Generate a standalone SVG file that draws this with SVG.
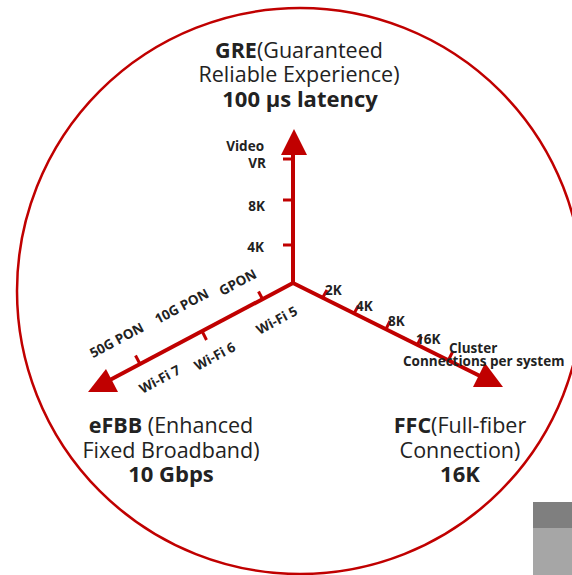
<svg xmlns="http://www.w3.org/2000/svg" width="572" height="575" viewBox="0 0 572 575">
  <style>
    .ring { fill: none; stroke: #c00000; stroke-width: 2.5; }
    .axis { fill: none; stroke: #c00000; stroke-width: 4; }
    .tick { fill: none; stroke: #c00000; stroke-width: 3; }
    .head { fill: #c00000; }
    .title { font-family: "Open Sans", "Noto Sans", sans-serif; font-size: 21.5px; fill: #222; text-anchor: middle; }
    .b { font-weight: 700; }
    .big { font-size: 22px; }
    .lbl { font-family: "Open Sans", "Noto Sans", sans-serif; font-size: 13.5px; font-weight: 700; fill: #222; }
  </style>

  <!-- outer ring -->
  <circle class="ring" cx="300" cy="291" r="283"/>

  <!-- axes, ticks and arrowheads -->
  <g id="connectors">
    <line class="axis" x1="293" y1="285" x2="293" y2="150"/>
    <line class="axis" x1="293" y1="283" x2="108" y2="381"/>
    <line class="axis" x1="293" y1="283" x2="482" y2="377"/>
    <polygon class="head" points="294,129 307,155 281,155"/>
    <polygon class="head" points="88,392 106,369 118,392"/>
    <polygon class="head" points="503,387 485,363 473,387"/>

    <!-- vertical axis ticks -->
    <line class="tick" x1="283" y1="159" x2="293" y2="159"/>
    <line class="tick" x1="283" y1="200" x2="293" y2="200"/>
    <line class="tick" x1="283" y1="245" x2="293" y2="245"/>

    <!-- broadband axis ticks -->
    <line class="tick" x1="263" y1="300" x2="258.5" y2="291.5"/>
    <line class="tick" x1="202.5" y1="332" x2="206.5" y2="340"/>
    <line class="tick" x1="140" y1="364" x2="135.5" y2="355.5"/>

    <!-- fiber axis ticks -->
    <line class="tick" x1="322.5" y1="298" x2="327" y2="290"/>
    <line class="tick" x1="354" y1="313.5" x2="358.5" y2="305.5"/>
    <line class="tick" x1="386" y1="329" x2="390" y2="321"/>
    <line class="tick" x1="417.5" y1="344.5" x2="421.5" y2="336.5"/>
    <line class="tick" x1="448.5" y1="360" x2="452.5" y2="352"/>
  </g>

  <!-- GRE node -->
  <g id="gre">
    <text class="title" x="299" y="58"><tspan class="b">GRE</tspan>(Guaranteed</text>
    <text class="title" x="299" y="82">Reliable Experience)</text>
    <text class="title b big" x="300" y="107">100 µs latency</text>
    <text class="lbl" x="264" y="151" text-anchor="end">Video</text>
    <text class="lbl" x="266" y="168" text-anchor="end">VR</text>
    <text class="lbl" x="265" y="211" text-anchor="end">8K</text>
    <text class="lbl" x="264" y="252" text-anchor="end">4K</text>
  </g>

  <!-- eFBB node -->
  <g id="efbb">
    <text class="title" x="171" y="433"><tspan class="b">eFBB</tspan> (Enhanced</text>
    <text class="title" x="171" y="458">Fixed Broadband)</text>
    <text class="title b big" x="171" y="482">10 Gbps</text>
    <text class="lbl" text-anchor="middle" x="240" y="286.5" transform="rotate(-28 240 286.5)">GPON</text>
    <text class="lbl" text-anchor="middle" x="184" y="310.5" transform="rotate(-28 184 310.5)">10G PON</text>
    <text class="lbl" text-anchor="middle" x="119" y="344.5" transform="rotate(-28 119 344.5)">50G PON</text>
    <text class="lbl" text-anchor="middle" x="279" y="324.5" transform="rotate(-28 279 324.5)">Wi-Fi 5</text>
    <text class="lbl" text-anchor="middle" x="217" y="360.5" transform="rotate(-28 217 360.5)">Wi-Fi 6</text>
    <text class="lbl" text-anchor="middle" x="162" y="383.5" transform="rotate(-28 162 383.5)">Wi-Fi 7</text>
  </g>

  <!-- FFC node -->
  <g id="ffc">
    <text class="title" x="460" y="433"><tspan class="b">FFC</tspan>(Full-fiber</text>
    <text class="title" x="460" y="458">Connection)</text>
    <text class="title b big" x="460" y="482">16K</text>
    <text class="lbl" x="325" y="295">2K</text>
    <text class="lbl" x="356" y="311">4K</text>
    <text class="lbl" x="388" y="326">8K</text>
    <text class="lbl" x="416" y="344">16K</text>
    <text class="lbl" x="449" y="353">Cluster</text>
    <text class="lbl" x="403" y="366">Connections per system</text>
  </g>

  <!-- corner blocks -->
  <rect x="533" y="502" width="39" height="26" fill="#7f7f7f"/>
  <rect x="533" y="528" width="39" height="47" fill="#a6a6a6"/>
</svg>
